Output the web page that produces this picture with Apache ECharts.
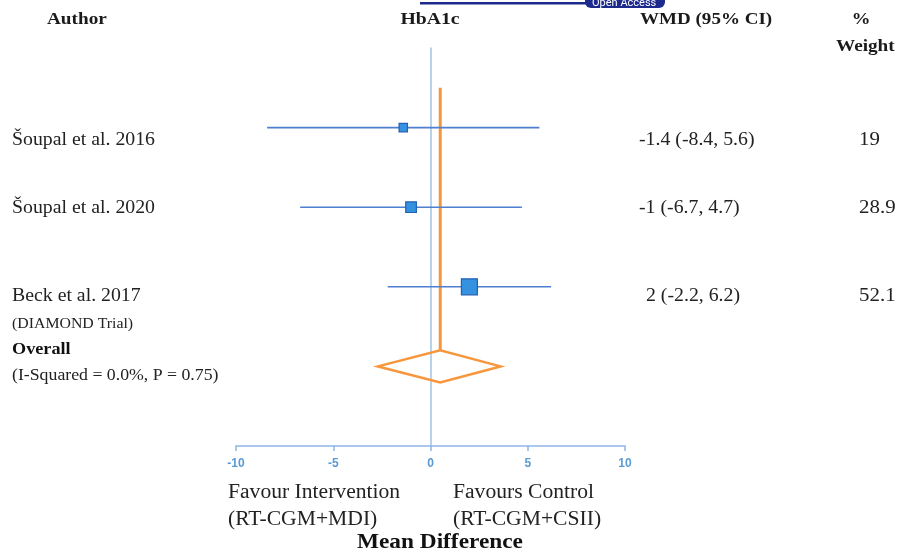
<!DOCTYPE html>
<html><head><meta charset="utf-8">
<script src="https://cdn.jsdelivr.net/npm/echarts@6/dist/echarts.min.js"></script>
<style>html,body{margin:0;padding:0;background:#fff}#c{width:898px;height:551px}</style>
</head><body><div id="c"></div>
<script>
// ---- data ----
const authors = ['Šoupal et al. 2016', 'Šoupal et al. 2020', 'Beck et al. 2017'];
const authorNotes = ['', '', '(DIAMOND Trial)'];
const wmd = [-1.4, -1, 2];
const ciLow = [-8.4, -6.7, -2.2];
const ciHigh = [5.6, 4.7, 6.2];
const weight = [19, 28.9, 52.1];
const overallEst = [0.5];
const overallLow = [-2.7];
const overallHigh = [3.6];
const overallLabel = ['Overall', '(I-Squared = 0.0%, P = 0.75)'];
const xTicks = [-10, -5, 0, 5, 10];

const chart = echarts.init(document.getElementById('c'));
const serif = 'Liberation Serif';
const rows = authors.map((a, i) => [i + 1, wmd[i], ciLow[i], ciHigh[i], weight[i]]);
const overallRow = authors.length + 1;

function txt(x, y, text, font, sx, align, color) {
  return {type: 'text', x: x, y: y, scaleX: sx || 1, originX: 0, originY: 0,
    style: {text: text, font: font, fill: color || '#1a1a1a', textAlign: align || 'left', textVerticalAlign: 'middle'}};
}

const rowTextY = [140, 208, 296];
const wmdX = [639, 639, 646];
const g = [];
// headers
g.push(txt(47, 20, 'Author', 'bold 17px ' + serif, 1.13));
g.push(txt(430, 20, 'HbA1c', 'bold 17px ' + serif, 1.16, 'center'));
g.push(txt(640, 20, 'WMD (95% CI)', 'bold 17px ' + serif, 1.12));
g.push(txt(861, 20, '%', 'bold 17px ' + serif, 1.1, 'center'));
g.push(txt(836, 47, 'Weight', 'bold 17px ' + serif, 1.13));
// open access artefact
g.push({type:'rect', shape:{x:420, y:2, width:170, height:2.5}, style:{fill:'#1c2a8c'}});
g.push({type:'rect', shape:{x:585, y:-8, width:80, height:16, r:6}, style:{fill:'#1c2a8c'}});
g.push({type:'text', x:592, y:3, style:{text:'Open Access', font:'11px Roboto', fill:'#fff', textVerticalAlign:'middle'}});
authors.forEach((a, i) => {
  g.push(txt(12, rowTextY[i], a, '18px ' + serif, 1.1, 'left', '#222'));
  g.push(txt(wmdX[i], rowTextY[i], `${wmd[i]} (${ciLow[i]}, ${ciHigh[i]})`, '18px ' + serif, 1.1, 'left', '#222'));
  g.push(txt(859, rowTextY[i], String(weight[i]), '19px ' + serif, 1.1, 'left', '#222'));
  if (authorNotes[i]) g.push(txt(12, rowTextY[i] + 28, authorNotes[i], '14px ' + serif, 1.13, 'left', '#222'));
});
g.push(txt(12, 350, overallLabel[0], 'bold 17px ' + serif, 1.07, 'left', '#111'));
g.push(txt(12, 376, overallLabel[1], '16px ' + serif, 1.11, 'left', '#222'));
g.push(txt(228, 493, 'Favour Intervention', '20px ' + serif, 1.08, 'left', '#222'));
g.push(txt(228, 520, '(RT-CGM+MDI)', '20px ' + serif, 1.08, 'left', '#222'));
g.push(txt(453, 493, 'Favours Control', '20px ' + serif, 1.08, 'left', '#222'));
g.push(txt(453, 520, '(RT-CGM+CSII)', '20px ' + serif, 1.08, 'left', '#222'));
g.push(txt(357, 543, 'Mean Difference', 'bold 21px ' + serif, 1.11, 'left', '#111'));

chart.setOption({
  animation: false,
  grid: {left: 236, right: 273, top: 48, bottom: 105},
  xAxis: {
    type: 'value', min: xTicks[0], max: xTicks[xTicks.length - 1], interval: 5,
    axisLine: {show: true, onZero: false, lineStyle: {color: '#8db6e6', width: 1.5}},
    axisTick: {show: true, length: 5, lineStyle: {color: '#8db6e6', width: 1.5}},
    axisLabel: {color: '#5b9bd5', fontWeight: 'bold', fontSize: 12, fontFamily: 'Arial', margin: 12},
    splitLine: {show: false}
  },
  yAxis: {
    type: 'value', min: 0, max: overallRow + 1, inverse: true,
    axisLine: {show: true, onZero: true, lineStyle: {color: '#9cc3ea', width: 1.5}},
    axisTick: {show: false}, axisLabel: {show: false}, splitLine: {show: false}
  },
  graphic: g,
  series: [
    {
      type: 'custom', z: 3,
      data: [[overallRow, overallEst[0], overallLow[0], overallHigh[0]]],
      encode: {x: [1, 2, 3], y: 0},
      renderItem: (params, api) => {
        const row = api.value(0), est = api.value(1), lo = api.value(2), hi = api.value(3);
        const c = api.coord([est, row]);
        const l = api.coord([lo, row]);
        const r = api.coord([hi, row]);
        const top = api.coord([est, 0.5]);
        const hh = 16;
        return {type: 'group', children: [
          {type: 'line', shape: {x1: c[0], y1: top[1], x2: c[0], y2: c[1] - hh}, style: {stroke: '#f7963a', lineWidth: 3}},
          {type: 'polygon', shape: {points: [[l[0], c[1]], [c[0], c[1] - hh], [r[0], c[1]], [c[0], c[1] + hh]]},
           style: {fill: 'rgba(255,255,255,0)', stroke: '#f7963a', lineWidth: 2.5}}
        ]};
      }
    },
    {
      type: 'custom', z: 4,
      data: rows,
      encode: {x: [1, 2, 3], y: 0},
      renderItem: (params, api) => {
        const row = api.value(0), est = api.value(1), lo = api.value(2), hi = api.value(3), w = api.value(4);
        const c = api.coord([est, row]);
        const l = api.coord([lo, row]);
        const r = api.coord([hi, row]);
        const s = 4 + w * 0.23;
        return {type: 'group', children: [
          {type: 'line', shape: {x1: l[0], y1: c[1], x2: r[0], y2: c[1]}, style: {stroke: '#4f7fcf', lineWidth: 1.6}},
          {type: 'rect', shape: {x: c[0] - s / 2, y: c[1] - s / 2, width: s, height: s},
           style: {fill: '#3592e0', stroke: '#2461b0', lineWidth: 1.2}}
        ]};
      }
    }
  ]
});
</script></body></html>
